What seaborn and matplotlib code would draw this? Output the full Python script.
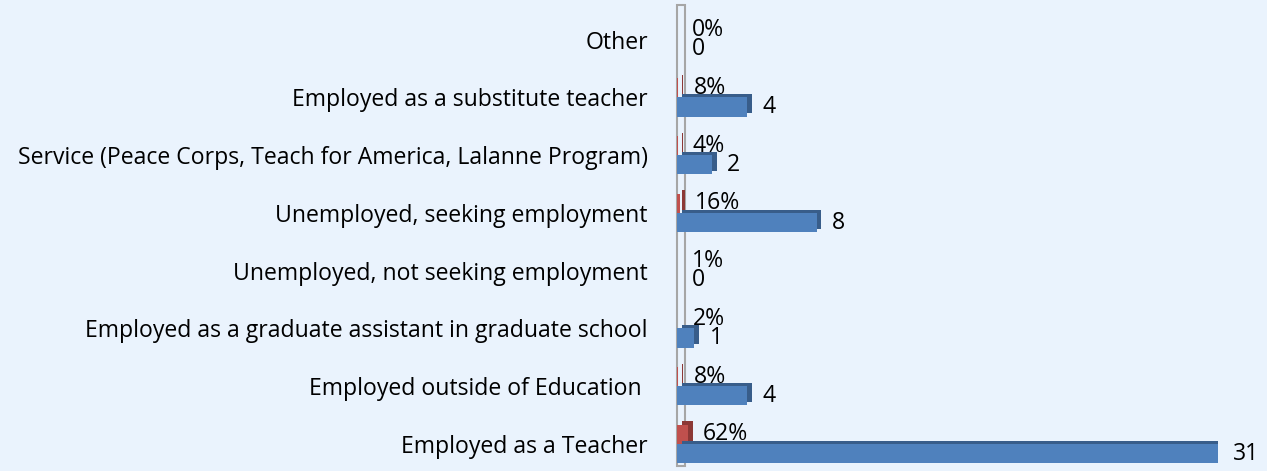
import pandas as pd
import matplotlib.pyplot as plt
import matplotlib.patheffects as pe
import seaborn as sns
from matplotlib.patches import Rectangle

# data
categories = [
    "Other",
    "Employed as a substitute teacher",
    "Service (Peace Corps, Teach for America, Lalanne Program)",
    "Unemployed, seeking employment",
    "Unemployed, not seeking employment",
    "Employed as a graduate assistant in graduate school",
    "Employed outside of Education ",
    "Employed as a Teacher",
]
counts = [0, 4, 2, 8, 0, 1, 4, 31]
percents = [0, 8, 4, 16, 1, 2, 8, 62]

df = pd.DataFrame({
    "category": categories * 2,
    "value": [p / 100 for p in percents] + counts,
    "series": ["Percent"] * len(categories) + ["Count"] * len(categories),
})

sns.set_theme(style="white")
plt.rcParams["font.family"] = ["Open Sans", "DejaVu Sans"]

bg = "#EAF3FD"
fig = plt.figure(figsize=(12.67, 4.71), dpi=100, facecolor=bg)
ax = fig.add_axes([677 / 1267, -0.004, 541 / 1267, 0.981])
ax.patch.set_alpha(0)

# 3D side wall behind the bars
wall = Rectangle((677 / 1267, 5 / 471), 8 / 1267, 461 / 471,
                 transform=fig.transFigure, fill=False, clip_on=False,
                 edgecolor="#A6A6A6", linewidth=1.5, zorder=0)
ax.add_patch(wall)

sns.barplot(data=df, y="category", x="value", hue="series", orient="h",
            hue_order=["Percent", "Count"],
            palette={"Percent": "#C0504D", "Count": "#4F81BD"},
            width=0.66, ax=ax, legend=False, saturation=1,
            linewidth=0, zorder=2)

ax.set_xlim(0, 31)
ax.set_ylim(7.5, -0.5)
ax.set_xlabel("")
ax.set_ylabel("")
ax.set_xticks([])
ax.tick_params(axis="y", length=0, pad=21, labelsize=16.6, labelcolor="black")
for s in ax.spines.values():
    s.set_visible(False)

# fake 3D depth: darker offset face behind each bar
for patch in ax.containers[0]:
    patch.set_path_effects([pe.SimplePatchShadow(offset=(3.5, 2.5), shadow_rgbFace="#8C3836", alpha=1),
                            pe.Normal()])
for patch in ax.containers[1]:
    patch.set_path_effects([pe.SimplePatchShadow(offset=(3.5, 2.5), shadow_rgbFace="#385D8A", alpha=1),
                            pe.Normal()])

ax.bar_label(ax.containers[0], labels=[f"{p}%" for p in percents],
             padding=11, fontsize=16.6, color="black")
ax.bar_label(ax.containers[1], labels=[str(c) for c in counts],
             padding=11, fontsize=16.6, color="black")

fig.savefig("out.png", dpi=100, facecolor=bg)
